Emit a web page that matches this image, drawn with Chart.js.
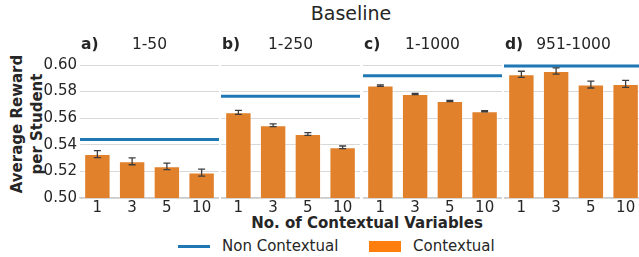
<!DOCTYPE html>
<html>
<head>
<meta charset="utf-8">
<script src="https://cdn.jsdelivr.net/npm/chart.js@4.4.1/dist/chart.umd.min.js"></script>
<style>
  body { margin:0; width:639px; height:257px; overflow:hidden; background:#fff; position:relative;
         font-family:"DejaVu Sans", sans-serif; color:#262626; }
  canvas { position:absolute; top:0; }
  .txt { position:absolute; white-space:nowrap; line-height:1; }
</style>
</head>
<body>
<div class="txt" id="title" style="font-size:19px; left:351px; top:4px; transform:translateX(-50%);">Baseline</div>
<div class="txt" id="ytitle" style="font-size:15px; font-weight:bold; line-height:19.5px; text-align:center;
     left:26.5px; top:124px; transform:translate(-50%,-50%) rotate(-90deg);">Average Reward<br>per Student</div>
<div class="txt" style="font-size:15px; font-weight:bold; left:367px; top:216px; transform:translateX(-50%);">No. of Contextual Variables</div>
<div class="txt" style="left:178px; top:244.5px; width:32px; height:3px; background:#1f77b4;"></div>
<div class="txt" style="font-size:15px; left:222px; top:239px;">Non Contextual</div>
<div class="txt" style="left:369px; top:241px; width:32px; height:11px; background:#ff7f0e;"></div>
<div class="txt" style="font-size:15px; left:413px; top:239px;">Contextual</div>

<script>
// values
const categories = ['1', '3', '5', '10'];
const panelLabels = ['a)', 'b)', 'c)', 'd)'];
const panelRanges = ['1-50', '1-250', '1-1000', '951-1000'];
const contextual = [
  [0.5330, 0.5276, 0.5238, 0.5191],
  [0.5644, 0.5547, 0.5481, 0.5381],
  [0.5845, 0.5782, 0.5729, 0.5652],
  [0.5930, 0.5955, 0.5853, 0.5858]
];
const contextualErr = [
  [0.0026, 0.0026, 0.0024, 0.0026],
  [0.0015, 0.0010, 0.0010, 0.0010],
  [0.0005, 0.0005, 0.0005, 0.0005],
  [0.0023, 0.0023, 0.0026, 0.0026]
];
const nonContextual = [0.5439, 0.5765, 0.5920, 0.5992];
const yMin = 0.50, yMax = 0.60, yStep = 0.02;

const plotLefts = [80, 221, 363, 504];
const plotWidth = 139;
const plotTop = 65, plotBottom = 198, H = 257, xAxisH = 22;

// horizontal "Non Contextual" line + error bars, placed with the chart's own scales
const overlay = {
  id: 'overlay',
  afterDatasetsDraw(chart, args, opts) {
    const ys = chart.scales.y;
    const area = chart.chartArea;
    const ctx = chart.ctx;
    ctx.save();
    const yb = ys.getPixelForValue(opts.baseline);
    ctx.strokeStyle = '#1f77b4';
    ctx.lineWidth = 3;
    ctx.beginPath();
    ctx.moveTo(area.left, yb); ctx.lineTo(area.right, yb);
    ctx.stroke();

    const meta = chart.getDatasetMeta(0);
    const ds = chart.data.datasets[0];
    ctx.strokeStyle = '#3d3d3d';
    ctx.lineWidth = 1.3;
    meta.data.forEach((bar, j) => {
      const t = ys.getPixelForValue(ds.data[j] + opts.err[j]);
      const b = ys.getPixelForValue(ds.data[j] - opts.err[j]);
      ctx.beginPath();
      ctx.moveTo(bar.x, t); ctx.lineTo(bar.x, b);
      ctx.moveTo(bar.x - 3.5, t); ctx.lineTo(bar.x + 3.5, t);
      ctx.moveTo(bar.x - 3.5, b); ctx.lineTo(bar.x + 3.5, b);
      ctx.stroke();
    });
    ctx.restore();
  }
};

panelLabels.forEach((lab, i) => {
  const first = i === 0;
  const yW = first ? plotLefts[0] : 0;
  const left = first ? 0 : plotLefts[i];
  const w = plotWidth + yW;

  const cv = document.createElement('canvas');
  cv.style.left = left + 'px';
  cv.style.width = w + 'px';
  cv.style.height = H + 'px';
  cv.width = w; cv.height = H;
  document.body.appendChild(cv);

  const l = document.createElement('div');
  l.className = 'txt';
  l.style.cssText = `font-size:15.5px;font-weight:bold;left:${plotLefts[i] + 1}px;top:37px;`;
  l.textContent = lab;
  document.body.appendChild(l);
  const r = document.createElement('div');
  r.className = 'txt';
  r.style.cssText = `font-size:15.5px;left:${plotLefts[i] + plotWidth / 2}px;top:37px;transform:translateX(-50%);`;
  r.textContent = panelRanges[i];
  document.body.appendChild(r);

  new Chart(cv, {
    type: 'bar',
    data: {
      labels: categories,
      datasets: [{
        label: 'Contextual',
        data: contextual[i],
        backgroundColor: '#e1812c',
        borderColor: 'rgba(255,255,255,0.4)',
        borderWidth: 1,
        categoryPercentage: 1,
        barPercentage: 0.76
      }]
    },
    options: {
      responsive: false,
      animation: false,
      layout: { padding: { top: plotTop, bottom: H - plotBottom - xAxisH, left: 0, right: 0 } },
      plugins: {
        legend: { display: false },
        tooltip: { enabled: false },
        overlay: { baseline: nonContextual[i], err: contextualErr[i] }
      },
      scales: {
        x: {
          offset: true,
          grid: { display: false, drawTicks: false },
          border: { color: '#cccccc', width: 1.25 },
          ticks: { color: '#262626', font: { family: 'DejaVu Sans', size: 15 }, padding: 1, maxRotation: 0 },
          afterFit: s => { s.height = xAxisH; }
        },
        y: {
          min: yMin, max: yMax,
          grid: { color: '#d9d9d9', lineWidth: 1, drawTicks: false },
          border: { display: false },
          ticks: {
            display: first,
            stepSize: yStep,
            padding: 3,
            color: '#262626',
            font: { family: 'DejaVu Sans', size: 15 },
            callback: v => v.toFixed(2)
          },
          afterFit: s => { s.width = yW; }
        }
      }
    },
    plugins: [overlay]
  });
});
</script>
</body>
</html>
